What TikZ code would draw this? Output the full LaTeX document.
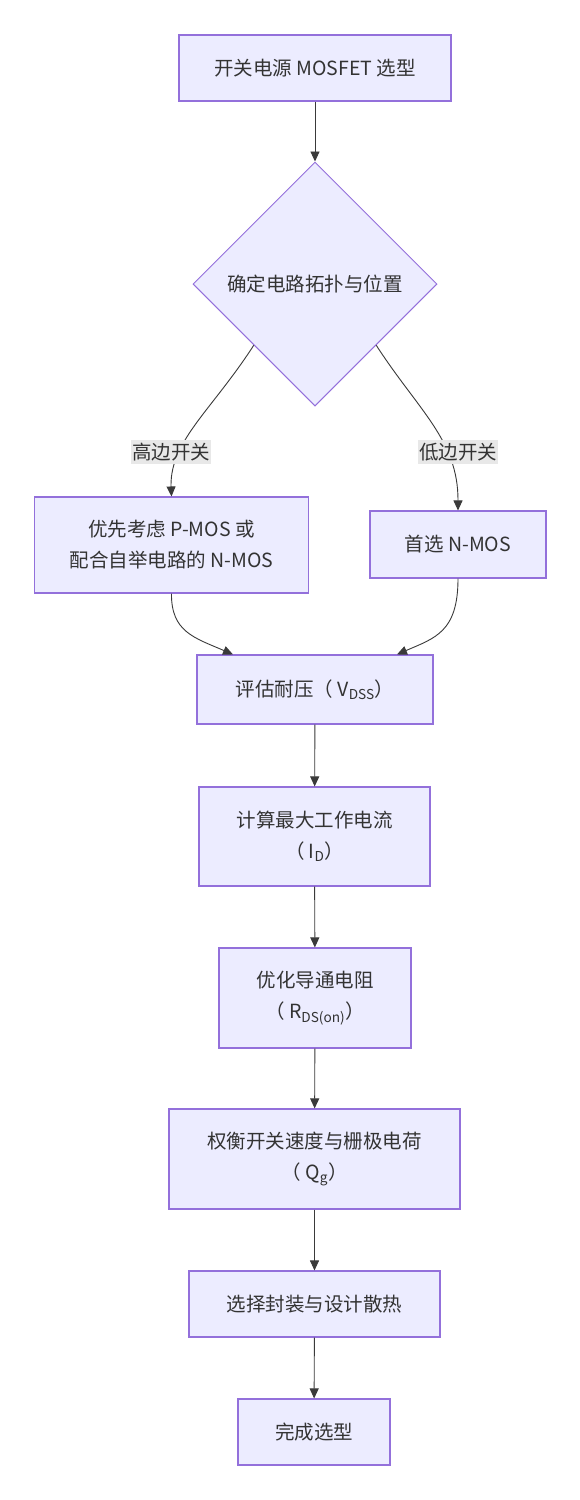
\documentclass[tikz,border=0pt]{standalone}
\usepackage{fontspec}
\setmainfont{Noto Sans CJK SC}
\usetikzlibrary{shapes.geometric,arrows.meta}
\definecolor{boxfill}{HTML}{ECECFF}
\definecolor{boxline}{HTML}{9370DB}
\definecolor{txt}{HTML}{333333}
\definecolor{edge}{HTML}{3A3A3A}
\definecolor{lblbg}{HTML}{E8E8E8}
\tikzset{
  stepbox/.style={draw=boxline, fill=boxfill, line width=1.1pt, text=txt, align=center, inner sep=0pt, font=\fontsize{19.5}{31}\selectfont},
  decide/.style={diamond, draw=boxline, fill=boxfill, line width=1pt, text=txt, inner sep=0pt, minimum width=244pt, minimum height=244pt, aspect=1, font=\fontsize{19.5}{31}\selectfont},
  flow/.style={draw=edge, line width=0.9pt, -{Triangle[length=10pt,width=9pt]}},
  elabel/.style={fill=lblbg, text=txt, inner xsep=1pt, inner ysep=3pt, font=\fontsize{19.5}{22}\selectfont}
}
\begin{document}
\begin{tikzpicture}[x=1pt,y=-1pt]
\useasboundingbox (0,0) rectangle (579,1500);
\fill[white] (0,0) rectangle (579,1500);

\node[stepbox, minimum width=272pt, minimum height=66pt] (start) at (315,68) {开关电源 MOSFET 选型};
\node[decide] (topo) at (315,284) {确定电路拓扑与位置};
\node[stepbox, minimum width=274pt, minimum height=96pt] (high) at (171.5,545) {优先考虑 P-MOS 或\\配合自举电路的 N-MOS};
\node[stepbox, minimum width=176pt, minimum height=67pt] (low) at (458,544.5) {首选 N-MOS};
\node[stepbox, minimum width=236pt, minimum height=69pt] (vdss) at (315,689.5) {评估耐压（ V\textsubscript{DSS}）};
\node[stepbox, minimum width=231pt, minimum height=99pt] (id) at (314.5,836.5) {计算最大工作电流\\（ I\textsubscript{D}）};
\node[stepbox, minimum width=192pt, minimum height=100pt] (rds) at (315,998) {优化导通电阻\\（ R\textsubscript{DS(on)}）};
\node[stepbox, minimum width=291pt, minimum height=100pt] (qg) at (314.5,1159) {权衡开关速度与栅极电荷\\（ Q\textsubscript{g}）};
\node[stepbox, minimum width=251pt, minimum height=66pt] (pkg) at (314.5,1304) {选择封装与设计散热};
\node[stepbox, minimum width=152pt, minimum height=66pt] (done) at (314,1432) {完成选型};

\coordinate (hl) at (171,452);
\coordinate (ll) at (458,452);
\coordinate (hv) at (171,485);
\coordinate (lv) at (458,500);

\draw[flow] (topo.south west) .. controls (212,410) and (171,440) .. (hv) -- (high.north);
\draw[flow] (topo.south east) .. controls (418,410) and (458,440) .. (lv) -- (low.north);
\node[elabel] (hlab) at (hl) {高边开关};
\node[elabel] (llab) at (ll) {低边开关};

\draw[flow] (start) -- (topo);
\draw[flow] (high.south) .. controls (171,632) and (195,638) .. ([xshift=-82pt]vdss.north);
\draw[flow] (low.south) .. controls (458,632) and (435,638) .. ([xshift=82pt]vdss.north);
\draw[flow] (vdss) -- (id);
\draw[flow] (id) -- (rds);
\draw[flow] (rds) -- (qg);
\draw[flow] (qg) -- (pkg);
\draw[flow] (pkg) -- (done);
\end{tikzpicture}
\end{document}
